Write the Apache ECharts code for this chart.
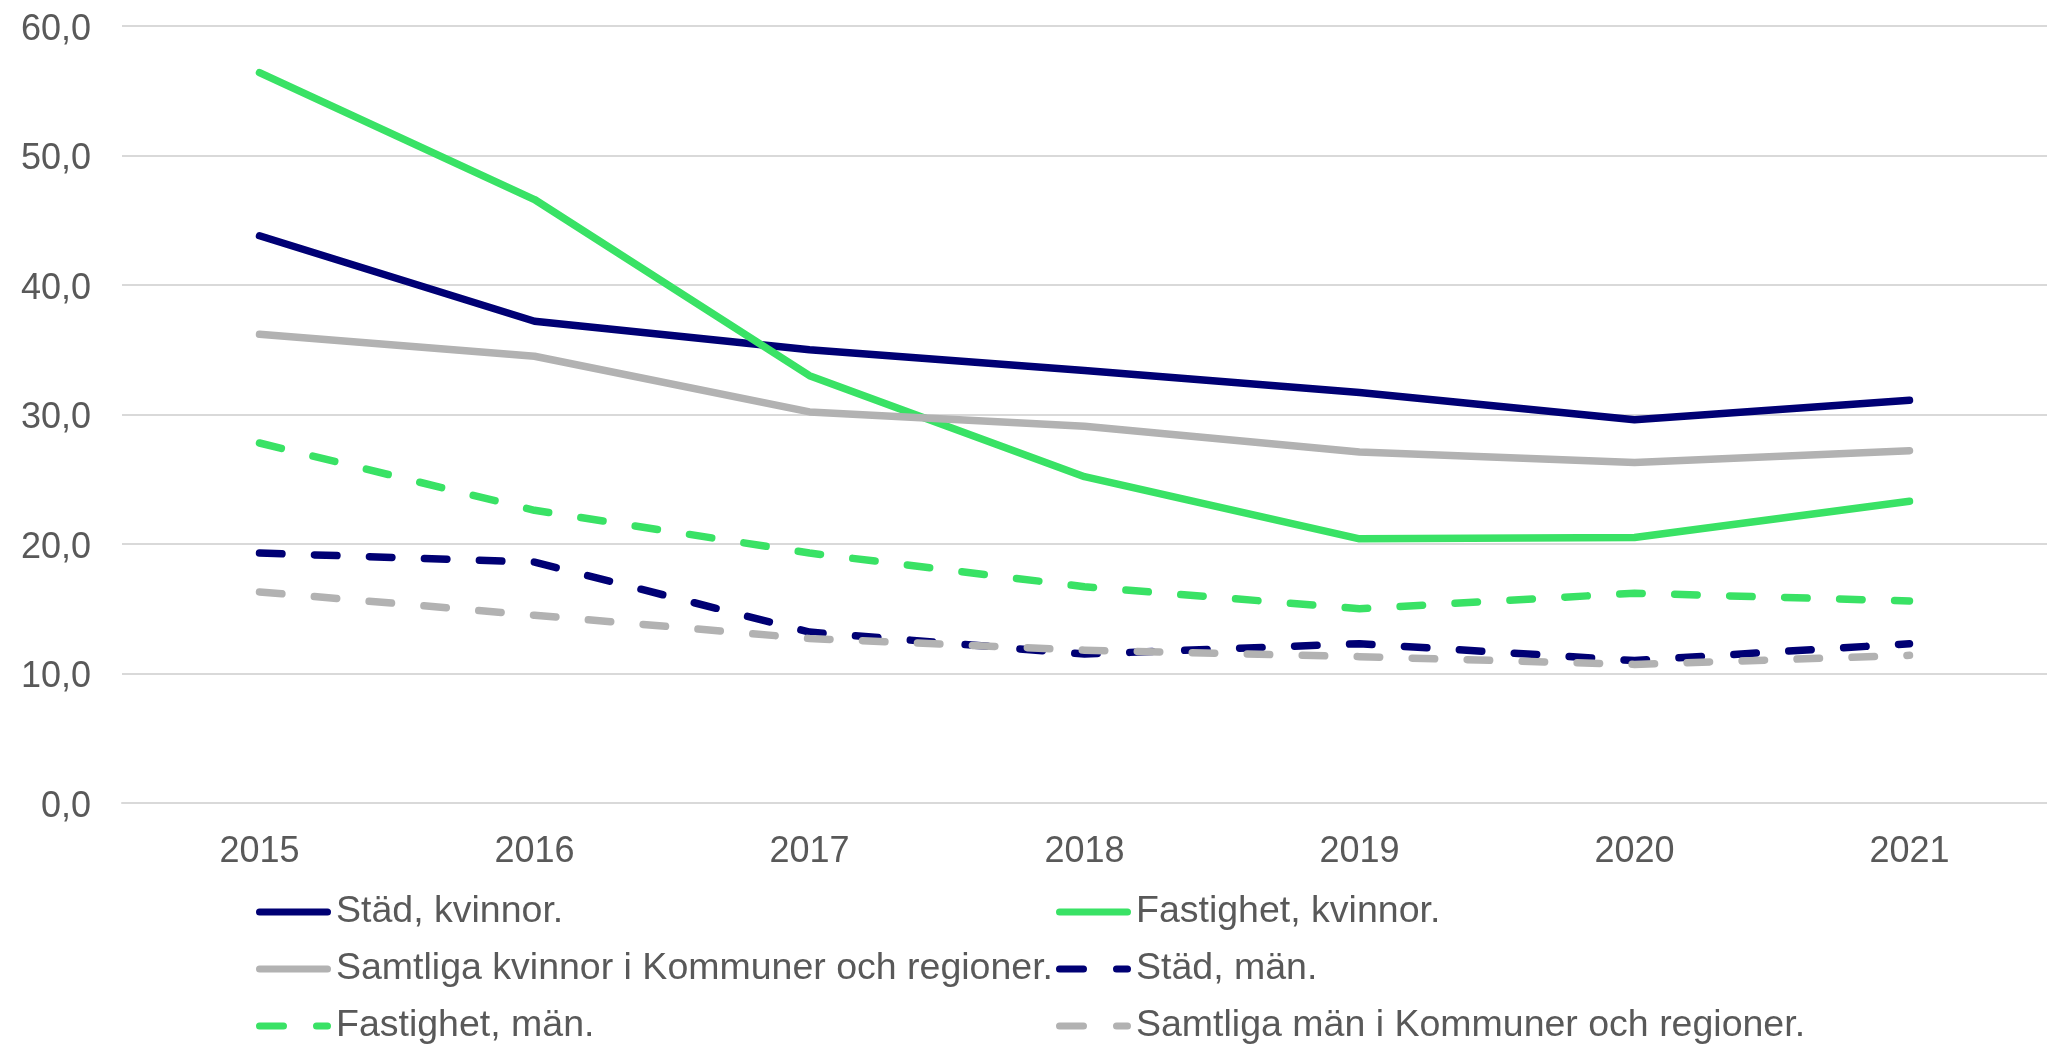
<!DOCTYPE html>
<html>
<head>
<meta charset="utf-8">
<script src="https://cdn.jsdelivr.net/npm/echarts@6/dist/echarts.min.js"></script>
<style>
  html, body { margin: 0; padding: 0; background: #fff; }
  #chart { width: 2047px; height: 1047px; }
</style>
</head>
<body>
<div id="chart"></div>
<script>
const years = ['2015', '2016', '2017', '2018', '2019', '2020', '2021'];

const stadKvinnor = [43.8, 37.2, 35.0, 33.4, 31.7, 29.6, 31.1];
const fastighetKvinnor = [56.4, 46.6, 33.0, 25.2, 20.4, 20.5, 23.3];
const samtligaKvinnor = [36.2, 34.5, 30.2, 29.1, 27.1, 26.3, 27.2];
const stadMan = [19.3, 18.6, 13.2, 11.5, 12.3, 11.0, 12.3];
const fastighetMan = [27.8, 22.6, 19.3, 16.7, 15.0, 16.2, 15.6];
const samtligaMan = [16.3, 14.5, 12.7, 11.8, 11.3, 10.7, 11.4];

const NAVY = '#000074';
const GREEN = '#39E265';
const GRAY = '#B2B2B2';
const TEXT = '#595959';
const FONT = '"Liberation Sans", Arial, sans-serif';

// legend icons: rounded bar, or dash + short dash
const ICON_SOLID = 'path://M3.5,0h68a3.5,3.5 0 0 1 0,7h-68a3.5,3.5 0 0 1 0,-7z';
const ICON_DASH = 'path://M3.5,0h24a3.5,3.5 0 0 1 0,7h-24a3.5,3.5 0 0 1 0,-7z' +
  'M60.5,0h11a3.5,3.5 0 0 1 0,7h-11a3.5,3.5 0 0 1 0,-7z';

const chart = echarts.init(document.getElementById('chart'));

function line(name, data, color, dashed) {
  return {
    name: name,
    type: 'line',
    data: data,
    symbol: 'none',
    lineStyle: {
      color: color,
      width: 7.5,
      type: dashed ? [22.5, 32.5] : 'solid',
      cap: 'round',
      join: 'round'
    },
    itemStyle: { color: color }
  };
}

// one legend per item so the two columns line up like the original
function legendItem(name, dashed, left, top) {
  return {
    left: left,
    top: top,
    padding: 0,
    itemWidth: 75,
    itemHeight: 7,
    selectedMode: false,
    itemStyle: { borderWidth: 0 },
    textStyle: { color: TEXT, fontSize: 37.5, fontFamily: FONT },
    data: [{ name: name, icon: dashed ? ICON_DASH : ICON_SOLID }]
  };
}

chart.setOption({
  animation: false,
  textStyle: { fontFamily: FONT },
  grid: { left: 122, top: 26, width: 1946, height: 777, containLabel: false },
  legend: [
    legendItem('Städ, kvinnor.', false, 256, 893),
    legendItem('Fastighet, kvinnor.', false, 1056, 893),
    legendItem('Samtliga kvinnor i Kommuner och regioner.', false, 256, 950),
    legendItem('Städ, män.', true, 1056, 950),
    legendItem('Fastighet, män.', true, 256, 1007),
    legendItem('Samtliga män i Kommuner och regioner.', true, 1056, 1007)
  ],
  xAxis: {
    type: 'category',
    data: years,
    boundaryGap: true,
    axisLine: { show: true, lineStyle: { color: '#D9D9D9', width: 2 } },
    axisTick: { show: false },
    axisLabel: { color: TEXT, fontSize: 36, fontFamily: FONT, margin: 31 }
  },
  yAxis: {
    type: 'value',
    min: 0,
    max: 60,
    interval: 10,
    axisLine: { show: false },
    axisTick: { show: false },
    splitLine: { lineStyle: { color: '#D9D9D9', width: 2 } },
    axisLabel: {
      color: TEXT,
      fontSize: 36,
      fontFamily: FONT,
      margin: 31,
      verticalAlign: 'top',
      lineHeight: 8,
      formatter: v => v.toFixed(1).replace('.', ',')
    }
  },
  series: [
    line('Städ, kvinnor.', stadKvinnor, NAVY, false),
    line('Fastighet, kvinnor.', fastighetKvinnor, GREEN, false),
    line('Samtliga kvinnor i Kommuner och regioner.', samtligaKvinnor, GRAY, false),
    line('Städ, män.', stadMan, NAVY, true),
    line('Fastighet, män.', fastighetMan, GREEN, true),
    line('Samtliga män i Kommuner och regioner.', samtligaMan, GRAY, true)
  ]
});
</script>
</body>
</html>
